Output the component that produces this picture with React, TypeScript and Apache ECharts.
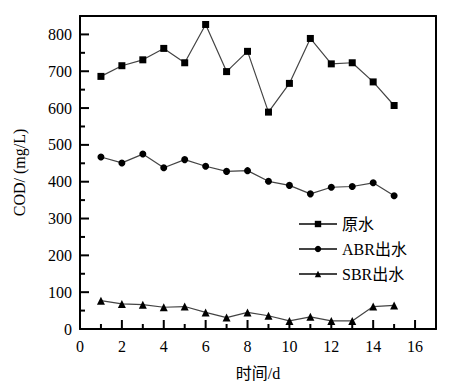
import React, { useEffect, useRef } from "react";
import * as echarts from "echarts";

const days = [1, 2, 3, 4, 5, 6, 7, 8, 9, 10, 11, 12, 13, 14, 15];
const rawWater = [686, 715, 731, 762, 723, 827, 699, 754, 589, 667, 789, 720, 723, 671, 607];
const abrOut = [467, 451, 475, 438, 460, 442, 428, 430, 401, 390, 367, 385, 387, 397, 362];
const sbrOut = [77, 68, 66, 59, 61, 45, 31, 45, 36, 22, 33, 22, 22, 61, 64];
const seriesNames = ["原水", "ABR出水", "SBR出水"];
const symbols = ["rect", "circle", "triangle"];

// tick values (axis units)
const xMajorTicks = [2, 4, 6, 8, 10, 12, 14, 16];
const xMinorTicks = [1, 3, 5, 7, 9, 11, 13, 15];
const yMajorTicks = [100, 200, 300, 400, 500, 600, 700, 800];
const yMinorTicks = [50, 150, 250, 350, 450, 550, 650, 750];

const FONT = "Liberation Serif, Noto Sans CJK SC, serif";

export default function App() {
  const ref = useRef<HTMLDivElement>(null);
  useEffect(() => {
    if (!ref.current) return;
    const chart = echarts.init(ref.current, null, { renderer: "svg" });
    const data = [rawWater, abrOut, sbrOut];
    const frameLine = { show: true, onZero: false, lineStyle: { color: "#000", width: 2 } };
    const MAJOR = 9;
    const MINOR = 5;
    // [value, axis(0=x,1=y), length]
    const tickData: number[][] = [
      ...xMajorTicks.map((v) => [v, 0, MAJOR]),
      ...xMinorTicks.map((v) => [v, 0, MINOR]),
      ...yMajorTicks.map((v) => [v, 1, MAJOR]),
      ...yMinorTicks.map((v) => [v, 1, MINOR]),
    ];
    chart.setOption({
      animation: false,
      backgroundColor: "#fff",
      textStyle: { fontFamily: FONT, color: "#000" },
      grid: {
        left: 80,
        right: 18,
        top: 16,
        bottom: 62,
        show: false,
      },
      legend: {
        orient: "vertical",
        left: 298,
        top: 216,
        padding: 0,
        itemWidth: 38,
        itemHeight: 8,
        itemGap: 9,
        textStyle: { fontFamily: FONT, fontSize: 16, color: "#000" },
        data: seriesNames,
      },
      xAxis: [
        {
          type: "value",
          position: "bottom",
          min: 0,
          max: 17,
          interval: 2,
          splitLine: { show: false },
          axisLine: frameLine,
          name: "时间/d",
          nameLocation: "middle",
          nameGap: 36,
          nameTextStyle: { fontFamily: FONT, fontSize: 16, color: "#000" },
          axisTick: { show: false },
          axisLabel: {
            show: true,
            fontFamily: FONT,
            fontSize: 16,
            color: "#000",
            margin: 9,
            formatter: (v: number) => (v === 17 ? "" : String(v)),
          },
        },
        {
          type: "value",
          position: "top",
          min: 0,
          max: 17,
          splitLine: { show: false },
          axisLine: frameLine,
          axisTick: { show: false },
          axisLabel: { show: false },
        },
      ],
      yAxis: [
        {
          type: "value",
          position: "left",
          min: 0,
          max: 850,
          interval: 100,
          splitLine: { show: false },
          axisLine: frameLine,
          name: "COD/ (mg/L)",
          nameLocation: "middle",
          nameGap: 53,
          nameTextStyle: { fontFamily: FONT, fontSize: 16, color: "#000" },
          axisTick: { show: false },
          axisLabel: {
            show: true,
            fontFamily: FONT,
            fontSize: 16,
            color: "#000",
            margin: 8,
            formatter: (v: number) => (v === 850 ? "" : String(v)),
          },
        },
        {
          type: "value",
          position: "right",
          min: 0,
          max: 850,
          splitLine: { show: false },
          axisLine: frameLine,
          axisTick: { show: false },
          axisLabel: { show: false },
        },
      ],
      series: [
        ...data.map((vals, i) => ({
          name: seriesNames[i],
          type: "line",
          xAxisIndex: 0,
          yAxisIndex: 0,
          data: days.map((d, j) => [d, vals[j]]),
          symbol: symbols[i],
          symbolSize: i === 2 ? 8 : 7,
          lineStyle: { color: "#444", width: 1.2 },
          itemStyle: { color: "#000" },
          z: 3,
        })),
        {
          name: "ticks",
          type: "custom",
          xAxisIndex: 0,
          yAxisIndex: 0,
          silent: true,
          clip: false,
          encode: { x: 0, y: 1 },
          data: tickData,
          z: 4,
          renderItem: (params: any, api: any) => {
            const v = api.value(0);
            const axis = api.value(1);
            const len = api.value(2);
            if (axis === 0) {
              const p = api.coord([v, 0]);
              return {
                type: "line",
                shape: { x1: p[0], y1: p[1], x2: p[0], y2: p[1] - len },
                style: { stroke: "#000", lineWidth: 2 },
              };
            }
            const p = api.coord([0, v]);
            return {
              type: "line",
              shape: { x1: p[0], y1: p[1], x2: p[0] + len, y2: p[1] },
              style: { stroke: "#000", lineWidth: 2 },
            };
          },
        },
      ],
    });
    return () => chart.dispose();
  }, []);
  return (
    <div
      ref={ref}
      style={{ position: "absolute", left: 0, top: 0, width: 454, height: 391 }}
    />
  );
}
